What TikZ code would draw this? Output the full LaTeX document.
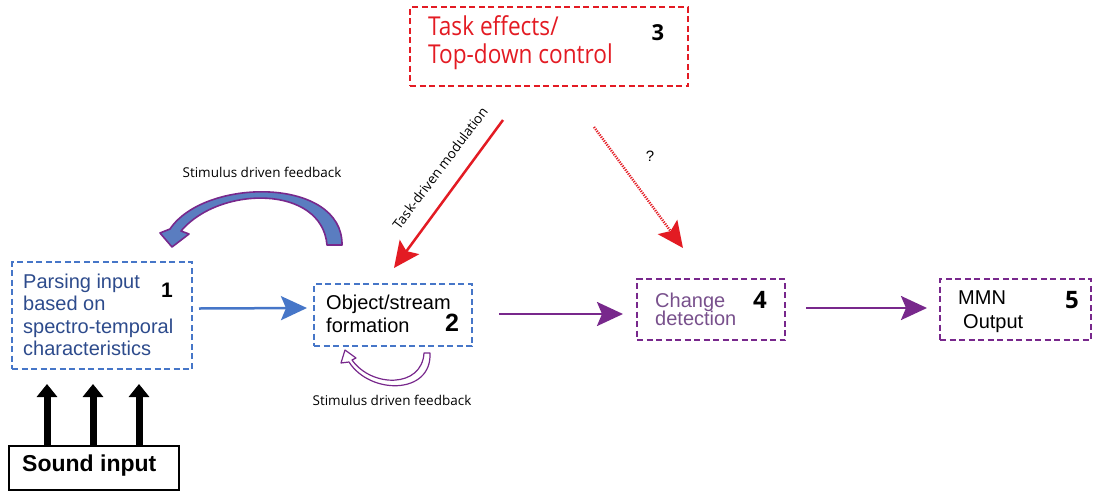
\documentclass[tikz,border=0pt]{standalone}
\usepackage{fontspec}
\setmainfont{Liberation Sans}
\newfontfamily\myr{Open Sans}
\newfontfamily\myrc{Open Sans}[FakeStretch=0.87]
\usetikzlibrary{arrows.meta,calc}
\definecolor{cblue}{RGB}{70,118,200}
\definecolor{ctxtblue}{RGB}{45,75,140}
\definecolor{cred}{RGB}{227,27,35}
\definecolor{cpurple}{RGB}{120,40,140}
\definecolor{cpurtxt}{RGB}{120,80,140}
\definecolor{cfill}{RGB}{90,125,192}
\tikzset{
  dbox/.style={draw, line width=2pt, dash pattern=on 6pt off 3.5pt, inner sep=0pt, anchor=north west},
  txt/.style={inner sep=0pt, anchor=base west, font=\fontsize{20}{20}\selectfont},
  num/.style={inner sep=0pt, anchor=center, font=\fontsize{20}{20}\selectfont\bfseries},
  lbl/.style={inner sep=0pt, anchor=center, font=\myr\fontsize{13.5}{14}\selectfont},
  flowarrow/.style={line width=2.5pt, -{Stealth[length=26pt,width=24pt,inset=5pt]}},
  blackarrow/.style={line width=7pt, -{Triangle[length=13pt,width=20pt]}},
}
\begin{document}
\begin{tikzpicture}[x=1pt,y=-1pt]
\useasboundingbox (0,0) rectangle (1093,491);
% boxes
\node[dbox, cblue, minimum width=180pt, minimum height=107pt] (b1) at (11,261) {};
\node[dbox, cblue, minimum width=158pt, minimum height=62pt] (b2) at (313,283) {};
\node[dbox, cred, minimum width=278pt, minimum height=79pt] (b3) at (409,6) {};
\node[dbox, cpurple, minimum width=148pt, minimum height=61pt] (b4) at (636,278) {};
\node[dbox, cpurple, minimum width=151pt, minimum height=61pt] (b5) at (939,278) {};
\node[draw, line width=1.5pt, inner sep=0pt, anchor=north west, minimum width=170pt, minimum height=44pt] (snd) at (8,445) {};
% texts box 1
\node[txt, text=ctxtblue] (t1a) at (23,288) {Parsing input};
\node[txt, text=ctxtblue] (t1b) at (23,310.5) {based on};
\node[txt, text=ctxtblue] (t1c) at (23,333) {spectro-temporal};
\node[txt, text=ctxtblue] (t1d) at (23,355.5) {characteristics};
\node[num, font=\fontsize{21}{21}\selectfont\bfseries] (n1) at (167,290) {1};
% box 2
\node[txt] (t2a) at (326,309) {Object/stream};
\node[txt] (t2b) at (326,332) {formation};
\node[num, font=\fontsize{25}{25}\selectfont\bfseries] (n2) at (452,323) {2};
% box 3
\node[txt, text=cred, font=\myrc\fontsize{26}{26}\selectfont] (t3a) at (428,35) {Task effects/};
\node[txt, text=cred, font=\myrc\fontsize{26}{26}\selectfont] (t3b) at (428,63) {Top-down control};
\node[num, font=\myr\fontsize{22}{22}\selectfont\bfseries] (n3) at (658,33) {3};
% box 4
\node[txt, text=cpurtxt] (t4a) at (655,307) {Change};
\node[txt, text=cpurtxt] (t4b) at (655,325) {detection};
\node[num, font=\myr\fontsize{24}{24}\selectfont\bfseries] (n4) at (760,300) {4};
% box 5
\node[txt] (t5a) at (958,304) {MMN};
\node[txt] (t5b) at (963,328) {Output};
\node[num, font=\myr\fontsize{24}{24}\selectfont\bfseries] (n5) at (1072,300) {5};
% sound
\node[inner sep=0pt, font=\fontsize{23}{23}\selectfont\bfseries, anchor=west] (ts) at (22,466) {Sound input};
% labels
\node[lbl] (fb1) at (262,172) {Stimulus driven feedback};
\node[lbl] (fb2) at (392,400) {Stimulus driven feedback};
\node[lbl, rotate=53] (tdm) at (440,168) {Task-driven modulation};
\node[inner sep=0pt, font=\fontsize{15}{15}\selectfont] (q) at (650,156) {?};
% flow arrows
\draw[flowarrow, cblue] ($(b1.east)+(6,-7)$) -- ($(b2.west)+(-6,-7)$);
\draw[flowarrow, cpurple] ($(b2.east)+(26,-1)$) -- ($(b2.east -| b4.west)+(-13,-1)$);
\draw[flowarrow, cpurple] ($(b4.east)+(20,-1.5)$) -- ($(b4.east -| b5.west)+(-12,-1.5)$);
\draw[flowarrow, cred] ($(b3.south)+(-46,33)$) -- ($(b2.north)+(1,-15)$);
\draw[cred, line width=2.5pt, dash pattern=on 1.2pt off 1.2pt, -{Stealth[length=26pt,width=24pt,inset=5pt,sep=0pt]}] ($(b3.south)+(45,40)$) -- ($(b4.north)+(-28,-30)$);
% sound arrows
\foreach \dx in {39,85,131}{
  \draw[blackarrow] ($(snd.north west)+(\dx,0)$) -- ($(b1.south west)+(\dx-3,14)$);
}
% big feedback arrow
\draw[cpurple, line width=1.6pt, fill=cfill, line join=round]
  (327,245) -- (342,245) .. controls (343,177) and (205,177) .. (170,229)
  -- (160,233) -- (172,247) -- (189,234) -- (181,231)
  .. controls (220,185) and (322,185) .. (327,245) -- cycle;
% small feedback arrow
\draw[cpurple, line width=1.2pt, fill=white, line join=round]
  (424,353) -- (430,353) .. controls (432,395) and (370,395) .. (349,362)
  -- (341,363) -- (345,350) -- (356,358) -- (352,360)
  .. controls (372,388) and (422,388) .. (424,353) -- cycle;
\end{tikzpicture}
\end{document}
